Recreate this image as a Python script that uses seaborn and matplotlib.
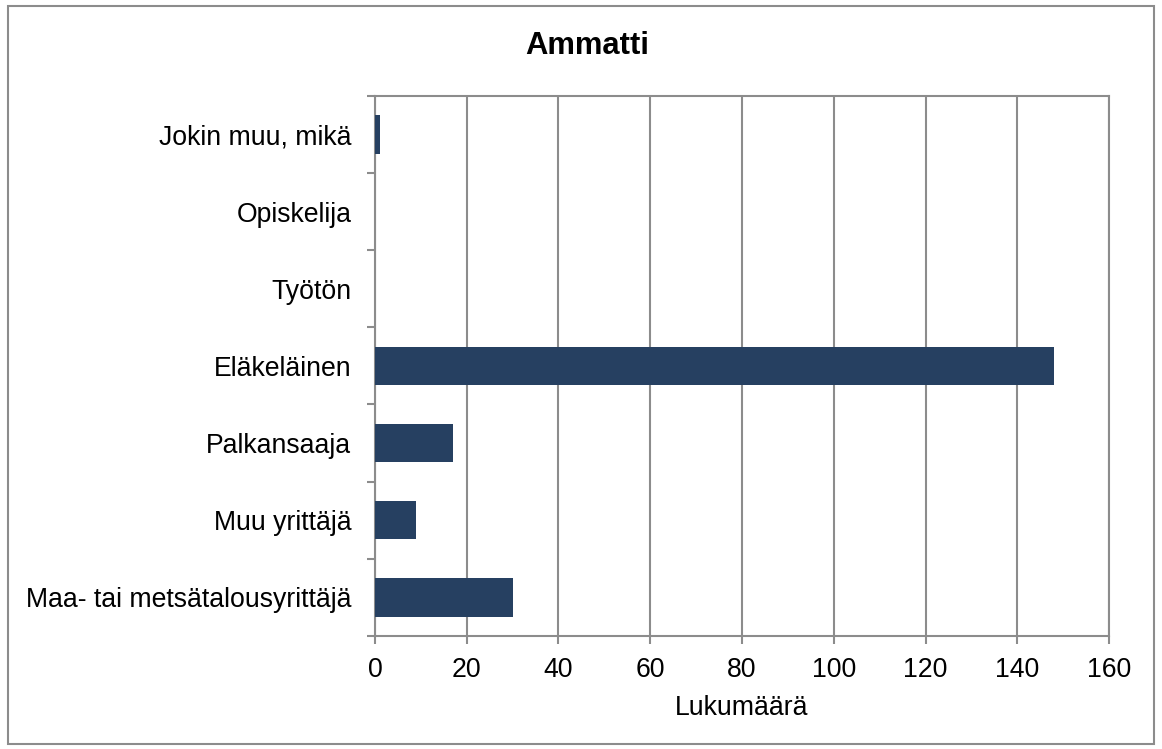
import matplotlib
matplotlib.use("Agg")
import matplotlib.pyplot as plt
import seaborn as sns
import pandas as pd
import numpy as np
from matplotlib.patches import Rectangle
from matplotlib.ticker import FixedLocator

categories = ["Jokin muu, mikä", "Opiskelija", "Työtön", "Eläkeläinen",
              "Palkansaaja", "Muu yrittäjä", "Maa- tai metsätalousyrittäjä"]
values = [1, 0, 0, 148, 17, 9, 30]
x_ticks = [0, 20, 40, 60, 80, 100, 120, 140, 160]

sns.set_theme(style="white")
plt.rcParams['font.family'] = ['Liberation Sans', 'DejaVu Sans']
plt.rcParams.update({"text.color": "black", "axes.labelcolor": "black",
                     "xtick.color": "black", "ytick.color": "black"})

df = pd.DataFrame({"cat": categories, "val": values})

fig = plt.figure(figsize=(11.62, 7.49), dpi=100)
ax = fig.add_axes([0.3227, 0.151, 0.9544 - 0.3227, 0.872 - 0.151])

grid_c = "#8c8c8c"
fs = 19.2
sns.barplot(data=df, x="val", y="cat", orient="h", color="#264061",
            saturation=1, width=0.5, ax=ax, zorder=3, linewidth=0)

ax.set_xlim(0, 160)
ax.set_ylim(6.5, -0.5)
ax.set_xticks(x_ticks)
ax.set_xticklabels([str(t) for t in x_ticks], fontsize=fs)
ax.xaxis.grid(True, color=grid_c, linewidth=1.5, zorder=0)
ax.set_axisbelow(True)

ax.yaxis.set_minor_locator(FixedLocator(np.arange(-0.5, 7.0, 1.0)))
ax.tick_params(axis="y", which="major", length=0, labelsize=fs, pad=17, labelcolor="black")
ax.tick_params(axis="y", which="minor", length=6, width=1.5, color=grid_c, direction="out", left=True)
ax.tick_params(axis="x", which="major", length=6, width=1.5, color=grid_c, direction="out",
               bottom=True, labelsize=fs, pad=9, labelcolor="black")

for s in ax.spines.values():
    s.set_color(grid_c)
    s.set_linewidth(1.5)
    s.set_visible(True)

ax.set_ylabel("")
ax.set_xlabel("Lukumäärä", fontsize=fs, labelpad=9, color="black")

fig.text(0.505, 0.938, "Ammatti", ha="center", va="center", fontsize=22.3,
         fontweight="bold", color="black")

fig.patches.append(Rectangle((8 / 1162, 1 - 744 / 749), (1154 - 8) / 1162, (744 - 6) / 749,
                             transform=fig.transFigure, fill=False, edgecolor=grid_c,
                             linewidth=1.5, zorder=0))

fig.savefig("out.png", dpi=100, facecolor="white")
